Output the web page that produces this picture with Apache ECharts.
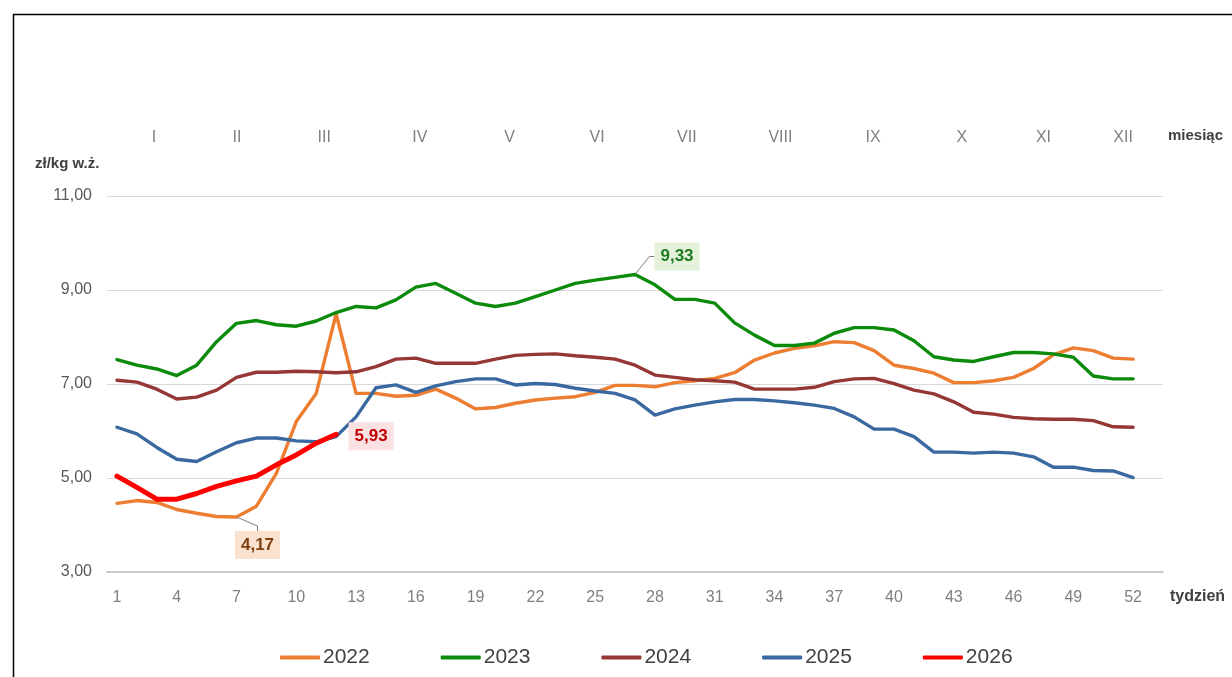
<!DOCTYPE html>
<html>
<head>
<meta charset="utf-8">
<script src="https://cdn.jsdelivr.net/npm/echarts@6/dist/echarts.min.js"></script>
<style>html,body{margin:0;padding:0;background:#fff}#c{width:1232px;height:677px}</style>
</head>
<body>
<div id="c"></div>
<script>
// ---- data ----
const weeks = Array.from({length: 53}, (_, i) => String(i + 1));
const monthLabels = ['I','II','III','IV','V','VI','VII','VIII','IX','X','XI','XII'];
const monthCenters = [2.86, 7.02, 11.4, 16.2, 20.7, 25.1, 29.6, 34.3, 38.95, 43.4, 47.5, 51.5];
const yTicks = [3, 5, 7, 9, 11];
const seriesNames = ['2022', '2023', '2024', '2025', '2026'];
const v2022 = [4.46,4.52,4.48,4.33,4.25,4.18,4.17,4.40,5.10,6.20,6.80,8.49,6.80,6.80,6.74,6.76,6.89,6.70,6.47,6.50,6.59,6.66,6.70,6.73,6.82,6.97,6.97,6.94,7.03,7.07,7.12,7.24,7.51,7.66,7.76,7.81,7.90,7.88,7.71,7.40,7.33,7.23,7.03,7.03,7.07,7.14,7.33,7.62,7.77,7.71,7.55,7.53];
const v2023 = [7.52,7.40,7.32,7.18,7.40,7.90,8.29,8.35,8.26,8.23,8.34,8.52,8.65,8.62,8.79,9.06,9.14,8.93,8.72,8.65,8.72,8.86,9.00,9.14,9.21,9.27,9.33,9.11,8.80,8.80,8.72,8.30,8.04,7.82,7.82,7.87,8.08,8.20,8.20,8.15,7.92,7.58,7.51,7.48,7.58,7.67,7.67,7.64,7.57,7.17,7.11,7.11];
const v2024 = [7.08,7.04,6.89,6.68,6.72,6.87,7.14,7.25,7.25,7.27,7.26,7.24,7.26,7.37,7.53,7.55,7.44,7.44,7.44,7.53,7.61,7.63,7.64,7.60,7.57,7.53,7.40,7.19,7.14,7.09,7.07,7.04,6.89,6.89,6.89,6.93,7.05,7.11,7.12,7.01,6.87,6.79,6.62,6.40,6.36,6.29,6.26,6.25,6.25,6.22,6.09,6.08];
const v2025 = [6.08,5.94,5.65,5.40,5.35,5.56,5.75,5.85,5.85,5.79,5.77,5.88,6.30,6.92,6.98,6.82,6.96,7.05,7.11,7.11,6.98,7.01,6.99,6.91,6.85,6.80,6.66,6.34,6.47,6.55,6.62,6.67,6.67,6.64,6.60,6.55,6.48,6.30,6.04,6.04,5.88,5.55,5.55,5.53,5.55,5.53,5.45,5.23,5.23,5.16,5.15,5.01];
const v2026 = [5.04,4.80,4.55,4.55,4.67,4.82,4.94,5.04,5.28,5.49,5.74,5.93];

// ---- styling ----
const colors = ['#ED7D31', '#0B8A0B', '#953735', '#3A68A0', '#FF0000'];
const widths = [3.4, 3.4, 3.4, 3.4, 5];
const fmt = v => v.toFixed(2).replace('.', ',');
const FONT = 'Liberation Sans';

const minIdx22 = v2022.indexOf(Math.min(...v2022));
const maxIdx23 = v2023.indexOf(Math.max(...v2023));
const lastIdx26 = v2026.length - 1;

const labelSpecs = {
  0: {idx: minIdx22, bg: '#FBE2CF', color: '#7B3F12', dx: 21, dy: 28, line: true},
  1: {idx: maxIdx23, bg: '#E4F1DB', color: '#1F7A1F', dx: 42, dy: -18, line: true},
  4: {idx: lastIdx26, bg: '#FBE1E1', color: '#C00000', dx: 35, dy: 2, line: false}
};

function buildData(arr, si) {
  const spec = labelSpecs[si];
  return arr.map((v, i) => {
    if (spec && spec.idx === i) {
      return {
        value: v,
        label: {
          show: true, position: 'inside', formatter: p => fmt(p.value),
          backgroundColor: spec.bg, color: spec.color, fontWeight: 'bold',
          fontSize: 17, fontFamily: FONT, padding: [6, 6, 5, 6]
        },
        labelLine: {show: spec.line, length2: 5, lineStyle: {color: '#7F7F7F', width: 1}}
      };
    }
    return v;
  });
}

const allData = [v2022, v2023, v2024, v2025, v2026];
const series = allData.map((arr, si) => ({
  name: seriesNames[si],
  type: 'line',
  data: buildData(arr, si),
  symbol: 'circle',
  symbolSize: 1,
  showSymbol: true,
  showAllSymbol: true,
  itemStyle: {color: colors[si]},
  lineStyle: {color: colors[si], width: widths[si], join: 'round', cap: 'round'},
  label: {show: false},
  z: 2 + si,
  labelLayout: function (p) {
    const spec = labelSpecs[si];
    if (spec && p.dataIndex === spec.idx) return {dx: spec.dx, dy: spec.dy};
    return {};
  },
  animation: false
}));

// invisible helper series to drive the top month axis
series.push({
  type: 'line', xAxisIndex: 1, data: [], silent: true
});

const chart = echarts.init(document.getElementById('c'), null, {renderer: 'canvas'});
chart.setOption({
  animation: false,
  backgroundColor: '#fff',
  grid: {left: 107, right: 69, top: 196, bottom: 105, containLabel: false},
  legend: {
    data: seriesNames,
    left: 275, top: 642,
    itemGap: 71,
    itemWidth: 40, itemHeight: 4,
    icon: 'roundRect',
    textStyle: {fontSize: 21, color: '#404040', fontFamily: FONT, padding: [0, 0, 0, -2]}
  },
  xAxis: [{
    type: 'category',
    data: weeks,
    boundaryGap: true,
    axisLine: {lineStyle: {color: '#BFBFBF', width: 1.5}},
    axisTick: {show: false},
    axisLabel: {
      interval: 2, color: '#7F7F7F', fontSize: 16, fontFamily: FONT, margin: 18,
      formatter: (v, i) => (i < 52 ? v : '')
    },
    splitLine: {show: false}
  }, {
    type: 'value',
    position: 'top',
    min: 0.5, max: 53.5,
    axisLine: {show: false},
    axisTick: {show: false},
    splitLine: {show: false},
    axisLabel: {
      customValues: monthCenters,
      color: '#7F7F7F', fontSize: 16, fontFamily: FONT, margin: 50,
      formatter: v => monthLabels[monthCenters.indexOf(v)] || ''
    }
  }],
  yAxis: {
    type: 'value',
    min: 3, max: 11, interval: 2,
    axisLine: {show: false},
    axisTick: {show: false},
    axisLabel: {color: '#595959', fontSize: 16, fontFamily: FONT, margin: 15, formatter: v => fmt(v)},
    splitLine: {lineStyle: {color: '#D9D9D9', width: 1.2}}
  },
  graphic: [
    {type: 'rect', left: 11, top: 12, shape: {width: 1260, height: 700},
     style: {fill: 'none', stroke: '#000', lineWidth: 1.5}, silent: true},
    {type: 'text', left: 35, top: 156, style: {text: 'zł/kg w.ż.', fontSize: 15, fontWeight: 'bold', fill: '#404040', fontFamily: FONT}},
    {type: 'text', left: 1168, top: 128, style: {text: 'miesiąc', fontSize: 15, fontWeight: 'bold', fill: '#404040', fontFamily: FONT}},
    {type: 'text', left: 1170, top: 589, style: {text: 'tydzień', fontSize: 16, fontWeight: 'bold', fill: '#404040', fontFamily: FONT}}
  ],
  series: series
});
</script>
</body>
</html>
